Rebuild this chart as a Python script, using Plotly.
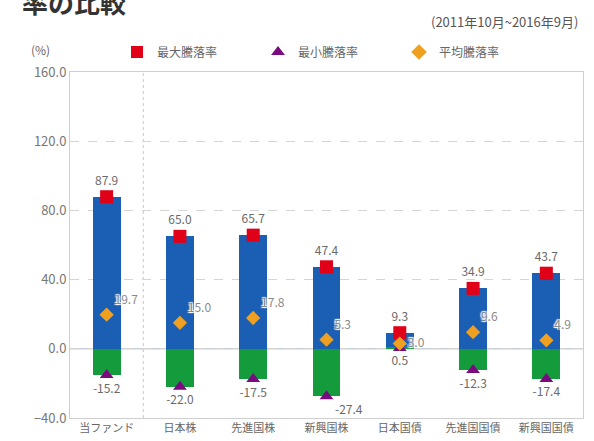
import plotly.graph_objects as go

categories = ["当ファンド", "日本株", "先進国株", "新興国株", "日本国債", "先進国国債", "新興国国債"]
max_vals = [87.9, 65.0, 65.7, 47.4, 9.3, 34.9, 43.7]
min_vals = [-15.2, -22.0, -17.5, -27.4, 0.5, -12.3, -17.4]
avg_vals = [19.7, 15.0, 17.8, 5.3, 3.0, 9.6, 4.9]
y_ticks = [-40, 0, 40, 80, 120, 160]

label_color = "#6a6a6a"
font_family = "Noto Sans CJK JP, Noto Sans, sans-serif"
halo = "1px 1px 1px #fff, -1px -1px 1px #fff, 1px -1px 1px #fff, -1px 1px 1px #fff"

fig = go.Figure()

fig.add_trace(go.Bar(x=categories, y=max_vals, width=0.38,
                     marker=dict(color="#1a5fb4", line=dict(width=0)),
                     showlegend=False, hoverinfo="skip"))
fig.add_trace(go.Bar(x=categories, y=min_vals, width=0.38,
                     marker=dict(color="#149c3c", line=dict(width=0)),
                     showlegend=False, hoverinfo="skip"))

fig.add_trace(go.Scatter(
    x=categories, y=max_vals, mode="markers+text", name="最大騰落率",
    marker=dict(symbol="square", size=13, color="#e00018"),
    text=[f"{v:.1f}" for v in max_vals], textposition="top center",
    textfont=dict(size=12, color=label_color), cliponaxis=False))

min_pos = ["bottom center"] * 7
min_pos[3] = "bottom right"
fig.add_trace(go.Scatter(
    x=categories, y=min_vals, mode="markers+text", name="最小騰落率",
    marker=dict(symbol="triangle-up", size=12, color="#7a0a80"),
    text=[f"{v:.1f}" for v in min_vals], textposition=min_pos,
    textfont=dict(size=12, color=label_color), cliponaxis=False))

avg_pos = ["top right"] * 7
avg_pos[4] = "middle right"
fig.add_trace(go.Scatter(
    x=categories, y=avg_vals, mode="markers+text", name="平均騰落率",
    marker=dict(symbol="diamond", size=11, color="#f0a020"),
    text=[f"{v:.1f}" for v in avg_vals], textposition=avg_pos,
    textfont=dict(size=12, color="#8a8a8a", shadow=halo), cliponaxis=False))

# dashed separator between fund and the rest
fig.add_shape(type="line", xref="x", yref="paper", x0=0.5, x1=0.5, y0=0, y1=1,
              line=dict(color="#c8c8c8", width=1, dash="dot"), layer="below")
# zero line
fig.add_shape(type="line", xref="paper", yref="y", x0=0, x1=1, y0=0, y1=0,
              line=dict(color="#c5d0dc", width=1.5), layer="below")

fig.update_layout(
    width=594, height=441,
    margin=dict(l=70, r=11, t=72, b=23, autoexpand=False),
    paper_bgcolor="white", plot_bgcolor="white",
    barmode="overlay", bargap=0,
    font=dict(family=font_family, color=label_color),
    legend=dict(orientation="h", xref="container", yref="container",
                x=0.197, xanchor="left", y=1 - 52 / 441, yanchor="middle",
                font=dict(size=12, color="#666"), entrywidth=96, entrywidthmode="pixels",
                itemsizing="constant", itemwidth=30, bgcolor="rgba(0,0,0,0)"),
    xaxis=dict(range=[-0.5, 6.5], showgrid=False, ticks="", showline=True,
               linecolor="#cfcfcf", mirror=True, tickfont=dict(size=11, color="#666"),
               automargin=False),
    yaxis=dict(range=[-40, 160], tickvals=y_ticks, tickformat=".1f",
               showgrid=True, gridcolor="#d5d5d5", griddash="dash", zeroline=False,
               showline=True, linecolor="#cfcfcf", mirror=True,
               tickfont=dict(size=13, color="#777"), ticks="", automargin=False),
    annotations=[
        dict(text="率の比較", xref="paper", yref="paper", x=-0.098, y=1.205,
             xanchor="left", yanchor="middle", showarrow=False,
             font=dict(size=26, color="#333", family=font_family, weight="bold")),
        dict(text="(2011年10月~2016年9月)", xref="paper", yref="paper", x=0.995, y=1.145,
             xanchor="right", yanchor="middle", showarrow=False,
             font=dict(size=13, color="#555")),
        dict(text="(%)", xref="paper", yref="paper", x=-0.058, y=1.065,
             xanchor="center", yanchor="middle", showarrow=False,
             font=dict(size=12, color="#666")),
    ],
)

fig.write_html("out.html", config={"displayModeBar": False},
               post_script="document.body.style.margin='0';document.body.style.overflow='hidden';")
